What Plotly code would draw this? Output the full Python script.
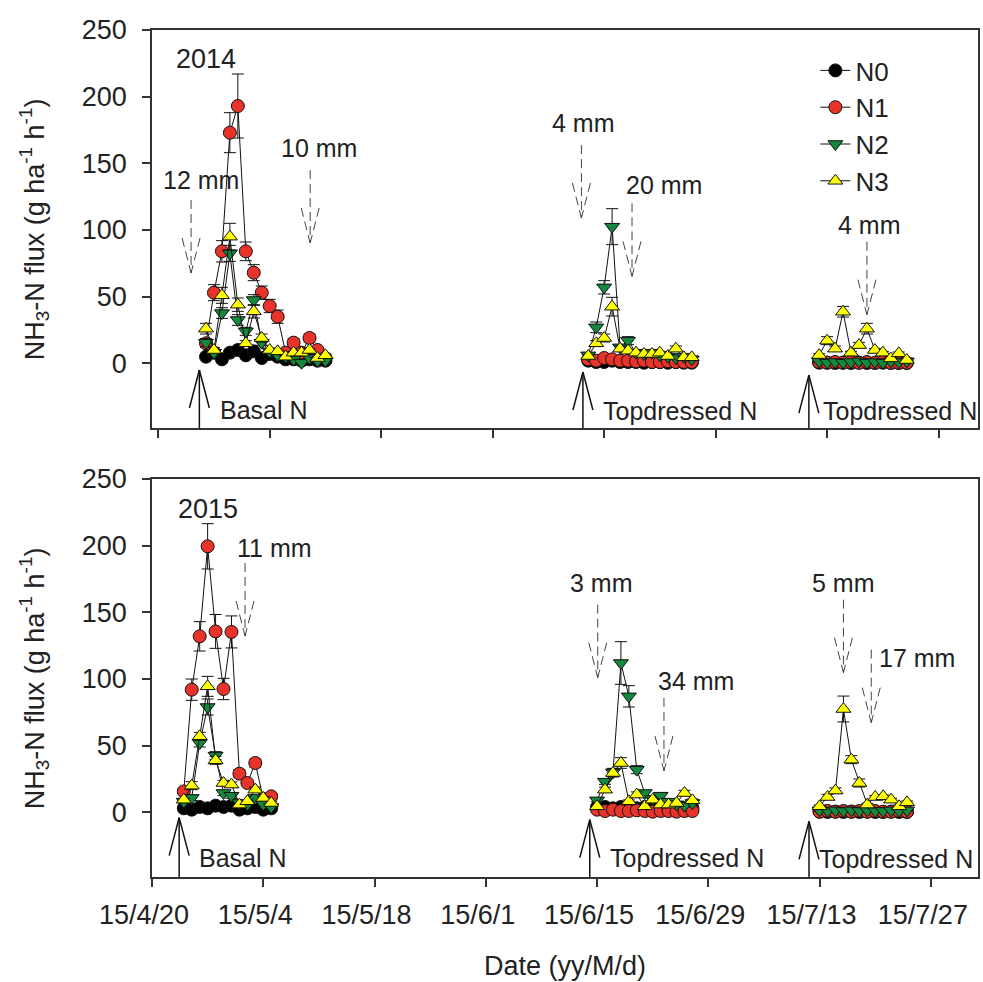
import pandas as pd
import plotly.graph_objects as go

# ---------------- data ----------------
series_names = ["N0", "N1", "N2", "N3"]
series_colors = ["#000000", "#e8332a", "#14883c", "#ffff00"]
series_symbols = ["circle", "circle", "triangle-down", "triangle-up"]

# sampling periods (start date, number of daily samples)
periods_2014 = [("2014-04-26", 16), ("2014-06-13", 14), ("2014-07-12", 12)]
periods_2015 = [("2015-04-24", 12), ("2015-06-15", 13), ("2015-07-13", 12)]

# 2014 flux values, per period
n0_2014 = [[5, 8, 3, 8, 10, 6, 9, 4, 7, 5, 3, 3, 2, 3, 2, 2],
           [2, 1, 1, 2, 1, 1, 1, 0.5, 1, 1, 0.5, 1, 0.5, 0.5],
           [0.5, 0.5, 0.3, 0.5, 0.3, 0.5, 0.3, 0.3, 0.5, 0.3, 0.3, 0.3]]
n1_2014 = [[15, 53, 84, 173, 193, 84, 68, 53, 43, 35, 8, 15.5, 8, 19, 10, 4],
           [3, 2, 4, 3, 2, 2, 1.5, 2, 1, 1, 1.5, 1, 1, 1],
           [1, 0.5, 1, 0.5, 1, 0.5, 1, 0.5, 1, 0.5, 0.5, 0.5]]
n2_2014 = [[15.5, 8, 37.7, 82.5, 32.5, 24, 47.5, 15.5, 9, 6, 5, 3, 0.5, 4, 2, 2],
           [6, 27, 57, 102.5, 12, 17, 8, 7, 8, 6, 5, 4, 5, 3],
           [1.5, 0.5, 1, 0.5, 1, 1.5, 0.5, 1, 0.5, 1.5, 1, 1.5]]
n3_2014 = [[26, 10, 51, 95, 44, 15, 39, 19, 10, 9, 5, 8, 8, 10, 4, 6],
           [5.5, 15, 19, 42.5, 11, 9.5, 8, 7, 7, 8, 5.5, 11, 4.5, 4.5],
           [6.2, 17, 11, 38.7, 8, 13.7, 26, 10, 8, 3.7, 7.5, 2.5]]
# 2014 standard errors
e0_2014 = [[1, 1, 1, 1, 1, 1, 1, 1, 1, 1, 1, 1, 1, 1, 1, 1],
           [0.5] * 14, [0.3] * 12]
e1_2014 = [[3, 6, 8, 15, 24, 7, 6, 5, 5, 5, 2, 3, 2, 3, 2, 1],
           [1, 1, 1, 1, 1, 1, 0.5, 0.5, 0.5, 0.5, 0.5, 0.5, 0.5, 0.5],
           [0.3] * 12]
e2_2014 = [[3, 2, 4, 6, 4, 3, 4, 2, 1, 1, 1, 1, 1, 1, 1, 1],
           [1, 4, 5, 13.5, 2, 3, 1, 1, 1, 1, 1, 1, 1, 1],
           [0.5] * 12]
e3_2014 = [[4, 2, 6, 10, 5, 2, 5, 3, 1, 1, 1, 1, 1, 1, 1, 1],
           [1, 2, 3, 7, 2, 1, 1, 1, 1, 1, 1, 2, 1, 1],
           [1, 3, 2, 4, 1, 2, 4, 1, 1, 1, 1, 1]]

# 2015 flux values, per period
n0_2015 = [[3, 2, 4, 3, 5, 4, 5, 2, 3, 4, 2, 3],
           [4, 4, 3, 4, 5, 3, 4, 3, 4, 3, 4, 3, 3],
           [0.5, 0.3, 0.5, 0.3, 0.5, 0.3, 0.5, 0.3, 0.3, 0.5, 0.3, 0.3]]
n1_2015 = [[15.7, 92, 132, 199.5, 135.7, 92.5, 135.3, 29, 22, 37, 10, 12],
           [2, 1, 2, 1, 1, 1.5, 1, 0.5, 1, 1, 0.5, 1, 1],
           [0.5, 1, 0.5, 1, 0.5, 1, 0.5, 1, 0.5, 0.5, 1, 0.5]]
n2_2015 = [[8, 10.8, 52, 79, 42.5, 14.5, 12.5, 7, 6, 10.8, 6, 4],
           [9, 23, 30, 112, 87, 32, 14.5, 10, 12.5, 8, 6, 5, 7],
           [1.5, 1, 1.5, 1, 1.5, 1, 1.5, 1, 1, 1.5, 1, 1.5]]
n3_2015 = [[9.5, 20, 57, 94.5, 39, 22, 20.8, 5.8, 8.3, 17, 10.8, 7],
           [4.5, 17, 29.5, 37, 8.3, 13.3, 4.5, 9.5, 5.8, 5.8, 7, 14.5, 9],
           [4.5, 11.5, 16.3, 77.5, 39.5, 22, 5.8, 11.5, 12, 9.5, 4.5, 7.5]]
e0_2015 = [[1] * 12, [1] * 13, [0.3] * 12]
e1_2015 = [[2, 8, 11, 17, 12.7, 8, 12, 3, 2, 3, 1, 2],
           [0.5] * 13, [0.3] * 12]
e2_2015 = [[1, 2, 3, 6, 3, 2, 2, 1, 1, 1, 1, 1],
           [1, 2, 3, 16, 8, 3, 2, 1, 2, 1, 1, 1, 1],
           [0.5] * 12]
e3_2015 = [[1, 3, 3, 7.5, 3, 2, 2, 1, 1, 2, 1, 1],
           [1, 2, 3, 4, 1, 2, 1, 1, 1, 1, 1, 2, 1],
           [1, 2, 2, 9.7, 3, 3, 1, 1, 1, 1, 1, 1]]

values_2014 = [n0_2014, n1_2014, n2_2014, n3_2014]
errors_2014 = [e0_2014, e1_2014, e2_2014, e3_2014]
values_2015 = [n0_2015, n1_2015, n2_2015, n3_2015]
errors_2015 = [e0_2015, e1_2015, e2_2015, e3_2015]

tick_dates_2014 = ["2014-04-20", "2014-05-04", "2014-05-18", "2014-06-01",
                   "2014-06-15", "2014-06-29", "2014-07-13", "2014-07-27"]
tick_dates_2015 = ["2015-04-20", "2015-05-04", "2015-05-18", "2015-06-01",
                   "2015-06-15", "2015-06-29", "2015-07-13", "2015-07-27"]
tick_labels = ["15/4/20", "15/5/4", "15/5/18", "15/6/1",
               "15/6/15", "15/6/29", "15/7/13", "15/7/27"]

# rainfall events: (date, label, arrow top value, text dx px, text dy px, xanchor)
rain_2014 = [("2014-04-24 03:00", "12 mm", 122.5, 10, 20, "center"),
             ("2014-05-09 02:00", "10 mm", 145.0, 9, 22, "center"),
             ("2014-06-12 03:30", "4 mm", 163.7, 2, 22, "center"),
             ("2014-06-18 12:00", "20 mm", 120.0, -8, 18, "left"),
             ("2014-07-18 00:00", "4 mm", 91.2, 3, 17, "center")]
rain_2015 = [("2015-05-01 17:00", "11 mm", 187.0, -10, 15, "left"),
             ("2015-06-15 02:00", "3 mm", 155.8, 4, 22, "center"),
             ("2015-06-23 10:00", "34 mm", 85.8, -8, 17, "left"),
             ("2015-07-16 00:00", "5 mm", 159.5, 0, 17, "center"),
             ("2015-07-19 12:00", "17 mm", 122.0, 6, -8, "left")]
# fertilisation events: (date, label, arrow top value, text dx px, text value)
fert_2014 = [("2014-04-25 04:00", "Basal N", -5.0, 19, -35),
             ("2014-06-12 08:00", "Topdressed N", -6.5, 18, -36),
             ("2014-07-10 17:00", "Topdressed N", -8.8, 12, -36)]
fert_2015 = [("2015-04-23 10:00", "Basal N", -4.0, 18, -34),
             ("2015-06-14 02:00", "Topdressed N", -5.5, 18, -34),
             ("2015-07-11 16:00", "Topdressed N", -6.75, 8, -35)]

# ---------------- layout constants ----------------
W, H = 983, 982
ML, MR, MT, MB = 152, 3, 30, 105
PLOT_W = W - ML - MR
PLOT_H = H - MT - MB
PANEL_H = 398
Y_RANGE = [-48.5, 250]
top_range = [pd.Timestamp("2014-04-19 05:15"), pd.Timestamp("2014-07-31 22:45")]
bot_range = [pd.Timestamp("2015-04-20 00:00"), pd.Timestamp("2015-08-01 22:20")]
FONT = "Arial, Liberation Sans, sans-serif"
TXT = "#222222"

unit_per_px = (Y_RANGE[1] - Y_RANGE[0]) / PANEL_H


def build_xy(periods, vals, errs):
    xs, ys, es = [], [], []
    for (start, n), v, e in zip(periods, vals, errs):
        d = pd.date_range(start, periods=n, freq="D")
        xs += [t.isoformat() for t in d] + [None]
        ys += list(v) + [None]
        es += list(e) + [0]
    return xs, ys, es


fig = go.Figure()
for panel, (periods, vals, errs, xa, ya) in enumerate(
        [(periods_2014, values_2014, errors_2014, "x", "y"),
         (periods_2015, values_2015, errors_2015, "x2", "y2")]):
    for i, name in enumerate(series_names):
        xs, ys, es = build_xy(periods, vals[i], errs[i])
        fig.add_trace(go.Scatter(
            x=xs, y=ys, xaxis=xa, yaxis=ya, name=name,
            mode="lines+markers", connectgaps=False,
            line=dict(color="#111111", width=1),
            marker=dict(symbol=series_symbols[i], size=13, color=series_colors[i],
                        line=dict(color="#111111", width=1)),
            error_y=dict(type="data", array=es, visible=True, color="#111111",
                         thickness=1, width=6),
            showlegend=(panel == 0), legendgroup=name))

shapes, annotations = [], []


def add_rain(events, xr, xref, yref):
    day_px = (xr[1] - xr[0]) / PLOT_W
    for date, label, ytop, tdx, tdy, anc in events:
        x = pd.Timestamp(date)
        ybot = ytop - 73 * unit_per_px
        yh = ybot + 35 * unit_per_px
        dl = dict(color="#444444", width=1, dash="9px,5px")
        shapes.append(dict(type="line", xref=xref, yref=yref, x0=x.isoformat(), x1=x.isoformat(),
                           y0=ytop, y1=ybot, line=dl))
        for s in (-1, 1):
            shapes.append(dict(type="line", xref=xref, yref=yref,
                               x0=(x + s * 9 * day_px).isoformat(), y0=yh,
                               x1=x.isoformat(), y1=ybot, line=dl))
        annotations.append(dict(x=x.isoformat(), y=ytop, xref=xref, yref=yref, text=label,
                                showarrow=False, xanchor=anc, yanchor="middle",
                                xshift=tdx, yshift=tdy,
                                font=dict(family=FONT, size=25, color=TXT)))


def add_fert(events, xr, xref, yref):
    day_px = (xr[1] - xr[0]) / PLOT_W
    for date, label, ytop, tdx, ty in events:
        x = pd.Timestamp(date)
        yh = ytop - 38 * unit_per_px
        sl = dict(color="#111111", width=1.5)
        shapes.append(dict(type="line", xref=xref, yref=yref, x0=x.isoformat(), x1=x.isoformat(),
                           y0=Y_RANGE[0], y1=ytop, line=sl))
        for s in (-1, 1):
            shapes.append(dict(type="line", xref=xref, yref=yref,
                               x0=(x + s * 10 * day_px).isoformat(), y0=yh,
                               x1=x.isoformat(), y1=ytop, line=sl))
        annotations.append(dict(x=x.isoformat(), y=ty, xref=xref, yref=yref, text=label,
                                showarrow=False, xanchor="left", yanchor="middle",
                                xshift=tdx,
                                font=dict(family=FONT, size=25, color=TXT)))


add_rain(rain_2014, top_range, "x", "y")
add_rain(rain_2015, bot_range, "x2", "y2")
add_fert(fert_2014, top_range, "x", "y")
add_fert(fert_2015, bot_range, "x2", "y2")

annotations.append(dict(x="2014-04-26", y=228, xref="x", yref="y", text="2014", showarrow=False,
                        font=dict(family=FONT, size=27, color=TXT)))
annotations.append(dict(x="2015-04-27", y=227.5, xref="x2", yref="y2", text="2015", showarrow=False,
                        font=dict(family=FONT, size=27, color=TXT)))

ytitle = "NH<sub>3</sub>-N flux (g ha<sup>-1</sup> h<sup>-1</sup>)"
top_dom = [1 - PANEL_H / PLOT_H, 1]
bot_dom = [0, PANEL_H / PLOT_H]
for dom in (top_dom, bot_dom):
    annotations.append(dict(x=(34 - ML) / PLOT_W, y=(dom[0] + dom[1]) / 2, xref="paper", yref="paper",
                            text=ytitle, textangle=-90, showarrow=False,
                            xanchor="center", yanchor="middle",
                            font=dict(family=FONT, size=27, color=TXT)))
annotations.append(dict(x=0.5, y=-(966 - (H - MB)) / PLOT_H, xref="paper", yref="paper",
                        text="Date (yy/M/d)", showarrow=False, xanchor="center", yanchor="middle",
                        font=dict(family=FONT, size=27, color=TXT)))

axis_common = dict(showline=True, linecolor="#333333", linewidth=1.5, mirror=True,
                   ticks="outside", ticklen=8, tickwidth=1.5, tickcolor="#333333",
                   showgrid=False, zeroline=False)

fig.update_layout(
    width=W, height=H,
    margin=dict(l=ML, r=MR, t=MT, b=MB),
    paper_bgcolor="white", plot_bgcolor="white",
    font=dict(family=FONT, size=27, color=TXT),
    xaxis=dict(domain=[0, 1], anchor="y", type="date",
               range=[top_range[0].isoformat(), top_range[1].isoformat()],
               tickvals=tick_dates_2014, showticklabels=False, **axis_common),
    yaxis=dict(domain=top_dom, anchor="x", range=Y_RANGE, tickvals=[0, 50, 100, 150, 200, 250],
               ticklabelstandoff=10, **axis_common),
    xaxis2=dict(domain=[0, 1], anchor="y2", type="date",
                range=[bot_range[0].isoformat(), bot_range[1].isoformat()],
                tickvals=tick_dates_2015, ticktext=tick_labels, ticklabelshift=-8,
                ticklabelstandoff=5, **axis_common),
    yaxis2=dict(domain=bot_dom, anchor="x2", range=Y_RANGE, tickvals=[0, 50, 100, 150, 200, 250],
                ticklabelstandoff=10, **axis_common),
    legend=dict(x=(817 - ML) / PLOT_W, y=1 - (47 - MT) / PLOT_H, xanchor="left", yanchor="top",
                bgcolor="rgba(0,0,0,0)", font=dict(family=FONT, size=26, color=TXT),
                tracegroupgap=0, itemsizing="trace"),
    shapes=shapes, annotations=annotations,
)

fig.write_html("out.html", config={"displayModeBar": False},
               post_script="document.body.style.margin='0';")
